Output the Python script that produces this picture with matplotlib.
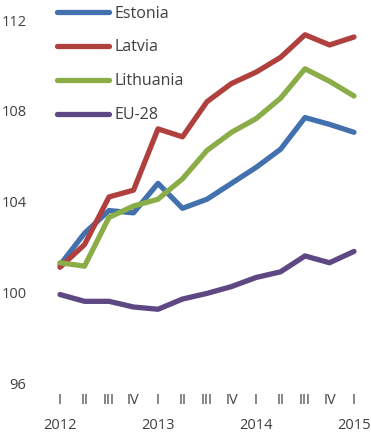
import matplotlib.pyplot as plt
import numpy as np

plt.rcParams['font.family'] = ['Open Sans', 'DejaVu Sans']

quarters = ['I', 'II', 'III', 'IV'] * 3 + ['I']
years = ['2012', '2013', '2014', '2015']

estonia = [101.2, 102.6, 103.6, 103.5, 104.8, 103.7, 104.1, 104.8, 105.5, 106.3, 107.7, 107.4, 107.05]
latvia = [101.1, 102.1, 104.2, 104.5, 107.2, 106.85, 108.4, 109.2, 109.7, 110.35, 111.35, 110.9, 111.25]
lithuania = [101.3, 101.15, 103.3, 103.8, 104.1, 105.0, 106.25, 107.05, 107.65, 108.55, 109.85, 109.3, 108.65]
eu28 = [99.9, 99.6, 99.6, 99.35, 99.25, 99.7, 99.95, 100.25, 100.65, 100.9, 101.6, 101.3, 101.8]

series = [('Estonia', estonia, '#4271ad'),
          ('Latvia', latvia, '#b0403e'),
          ('Lithuania', lithuania, '#8bad48'),
          ('EU-28', eu28, '#5e4884')]

txt = '#404040'

fig = plt.figure(figsize=(3.71, 4.4), dpi=100)
ax = fig.add_axes([32 / 371, 57 / 440, (366 - 32) / 371, (383 - 20) / 440])

x = np.arange(len(quarters))
for name, vals, col in series:
    ax.plot(x, vals, color=col, lw=3.8, label=name, solid_capstyle='round')

ax.set_ylim(96, 112)
ax.set_yticks([96, 100, 104, 108, 112])
ax.set_xlim((32 - 60) / 24.5, 12 + (366 - 354) / 24.5)
ax.set_xticks(x)
ax.set_xticklabels(quarters)
ax.tick_params(length=0, labelsize=10.5, colors=txt)
ax.tick_params(axis='x', pad=7)
ax.tick_params(axis='y', pad=4)
for s in ax.spines.values():
    s.set_visible(False)

# year labels under each first quarter
for i, yr in enumerate(years):
    ax.annotate(yr, xy=(i * 4, 0), xycoords=('data', 'axes fraction'),
                xytext=(0, -25), textcoords='offset points',
                ha='center', va='top', fontsize=10.5, color=txt)

leg = ax.legend(loc='upper left', bbox_to_anchor=(55 / 371, 436 / 440), bbox_transform=fig.transFigure,
                frameon=False, fontsize=11.5, handlelength=3.3, handletextpad=0.3,
                labelspacing=1.12, borderpad=0.1, borderaxespad=0)
for t in leg.get_texts():
    t.set_color(txt)

fig.savefig('out.png', dpi=100)
